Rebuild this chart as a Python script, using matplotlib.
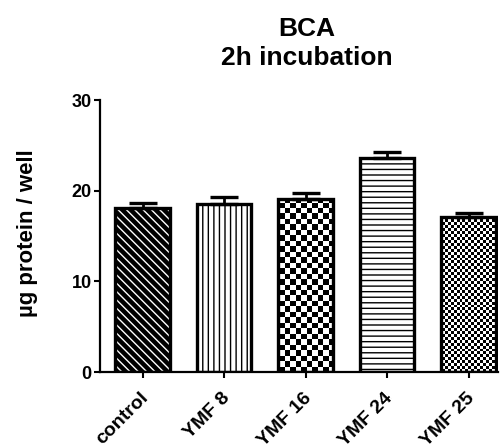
import matplotlib
matplotlib.use('Agg')
import matplotlib.pyplot as plt
import matplotlib.transforms as mtransforms
import numpy as np

# values
groups = ['control', 'YMF 8', 'YMF 16', 'YMF 24', 'YMF 25']
means = [18.1, 18.5, 19.1, 23.6, 17.15]
sems = [0.5, 0.85, 0.6, 0.65, 0.35]
yticks = [0, 10, 20, 30]

plt.rcParams['font.family'] = ['Liberation Sans', 'DejaVu Sans']
plt.rcParams['font.weight'] = 'bold'

fig = plt.figure(figsize=(5, 4.45), dpi=100)
ax = fig.add_axes([0.2, 0.164, 0.795, 0.611])

x = np.arange(len(groups))
width = 0.67
xlim = (-0.524, 4.354)
ylim = (0, 30)


def checker(n_cols, n_rows):
    # checkerboard image used as bar fill
    yy, xx = np.mgrid[0:n_rows, 0:n_cols]
    return ((xx + yy) % 2).astype(float)


ax_w_px, ax_h_px = 0.795 * 500, 0.611 * 445

# control: black with thin white diagonal stripes
ax.bar(x[0], means[0], width, color='black', linewidth=0, zorder=2)
ax.bar(x[0], means[0], width, facecolor='none', edgecolor='white',
       hatch='\\\\\\\\', linewidth=0, zorder=2.1)

# YMF 8: vertical lines
ax.bar(x[1], means[1], width, facecolor='white', edgecolor='black',
       hatch='|||', linewidth=0, zorder=2)

# YMF 24: horizontal lines
ax.bar(x[3], means[3], width, facecolor='white', edgecolor='black',
       hatch='---', linewidth=0, zorder=2)

# YMF 16 and YMF 25: checkerboards clipped to the bar shapes
for i, cell in [(2, 5.4), (4, 2.9)]:
    bars = ax.bar(x[i], means[i], width, facecolor='white', linewidth=0, zorder=2)
    img = checker(int(ax_w_px / cell), int(ax_h_px / cell))
    im = ax.imshow(img, cmap='gray', extent=(xlim[0], xlim[1], ylim[0], ylim[1]),
                   aspect='auto', interpolation='nearest', zorder=2.2)
    im.set_clip_path(bars[0])

# outlines on top
ax.bar(x, means, width, facecolor='none', edgecolor='black', linewidth=2.4, zorder=3)

ax.errorbar(x, means, yerr=[np.zeros(len(sems)), sems], fmt='none',
            ecolor='black', elinewidth=2, capsize=10, capthick=2.4, zorder=2.5)

ax.set_xlim(xlim)
ax.set_ylim(ylim)
ax.set_yticks(yticks)
ax.set_xticks(x)
ax.set_xticklabels(groups, rotation=45, ha='right', rotation_mode='anchor',
                   fontsize=14, fontweight='bold')
ax.tick_params(axis='y', labelsize=13, width=1.5, length=4.5, pad=1.5)
ax.tick_params(axis='x', width=1.5, length=4.5, pad=8)
shift = mtransforms.ScaledTranslation(-2 / 72, 0, fig.dpi_scale_trans)
for lab in ax.get_xticklabels():
    lab.set_transform(lab.get_transform() + shift)
for lab in ax.get_yticklabels():
    lab.set_fontweight('bold')

for s in ['top', 'right']:
    ax.spines[s].set_visible(False)
for s in ['left', 'bottom']:
    ax.spines[s].set_linewidth(1.6)

ax.set_ylabel('µg protein / well', fontsize=16, fontweight='bold')
ax.yaxis.set_label_coords(-0.156, 0.51)
ax.set_title('BCA\n2h incubation', fontsize=19, fontweight='bold', pad=25,
             x=0.52, linespacing=1.3)

fig.savefig('out.png', dpi=100)
